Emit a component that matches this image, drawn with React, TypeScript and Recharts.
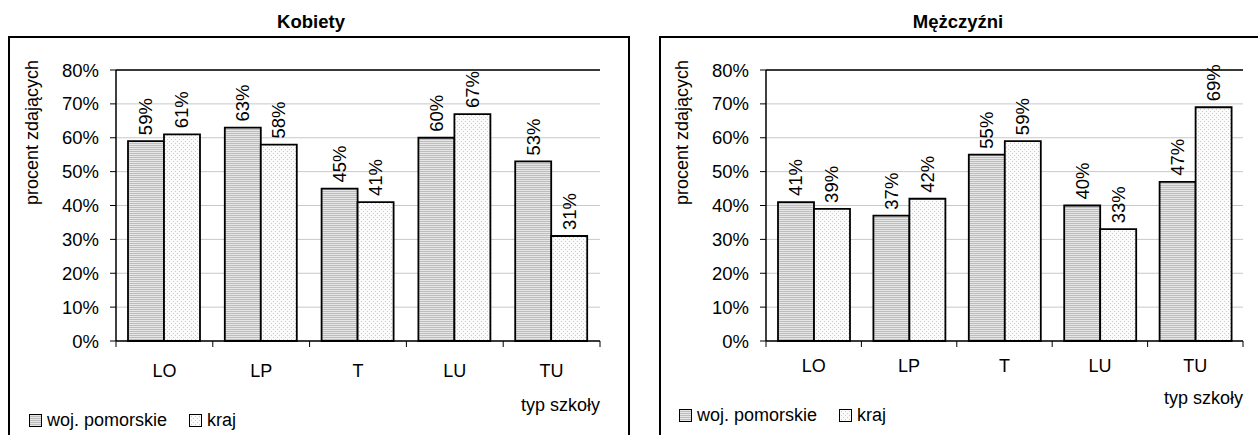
import React from 'react';
import { BarChart, Bar, XAxis, YAxis, CartesianGrid, LabelList, ReferenceLine } from 'recharts';

const categories = ['LO', 'LP', 'T', 'LU', 'TU'];
const kobietyPomorskie = [59, 63, 45, 60, 53];
const kobietyKraj = [61, 58, 41, 67, 31];
const mezczyzniPomorskie = [41, 37, 55, 40, 47];
const mezczyzniKraj = [39, 42, 59, 33, 69];
const yTicks = [0, 10, 20, 30, 40, 50, 60, 70, 80];

const seriesNames = { pom: 'woj. pomorskie', kraj: 'kraj' };
const FONT = '"Liberation Sans", Arial, sans-serif';

interface PanelProps {
  id: string;
  title: string;
  pom: number[];
  kraj: number[];
  left: number;
  width: number;
  axisWidth: number;
  rightMargin: number;
  titleX: number;
  yLabelX: number;
  tickDy: number;
  xLabelDy: number;
  legendTop: number;
  legendLeft: number;
}

const Panel: React.FC<PanelProps> = (p) => {
  const data = categories.map((c, i) => ({ cat: c, pom: p.pom[i], kraj: p.kraj[i] }));
  const top = 37;
  const height = 408;
  const half = (p.width - p.axisWidth - p.rightMargin) / categories.length / 2;

  const renderTick = (props: any) => {
    const { x, y, payload, index } = props;
    return (
      <g>
        <line x1={x + half} x2={x + half} y1={y} y2={y + 6} stroke="#000" />
        {index === 0 && <line x1={x - half} x2={x - half} y1={y} y2={y + 6} stroke="#000" />}
        <text x={x} y={y + p.tickDy} textAnchor="middle" fontSize={18} fill="#000" fontFamily={FONT}>
          {payload.value}
        </text>
      </g>
    );
  };

  const renderValue = (props: any) => {
    const { x, y, width, value } = props;
    const cx = x + width / 2;
    const cy = y - 6;
    return (
      <text x={cx} y={cy} transform={`rotate(-90, ${cx}, ${cy})`} textAnchor="start" dominantBaseline="central"
        fontSize={18.5} fill="#000" fontFamily={FONT}>
        {value}%
      </text>
    );
  };

  return (
    <>
      <div style={{ position: 'absolute', left: p.titleX - 150, top: 11, width: 300, textAlign: 'center', fontWeight: 'bold', fontSize: 18.5, lineHeight: '22px', fontFamily: FONT }}>
        {p.title}
      </div>
      <div style={{ position: 'absolute', left: p.left - 1, top: top - 1, width: p.width + 2, height: 430, border: '2px solid #000', boxSizing: 'border-box' }} />
      <div style={{ position: 'absolute', left: p.left, top }}>
        <BarChart width={p.width} height={height} data={data} barGap={0}
          margin={{ top: 33, right: p.rightMargin, left: 0, bottom: 0 }}>
          <defs>
            <pattern id={`${p.id}-pom`} width="2" height="2" patternUnits="userSpaceOnUse">
              <rect width="2" height="2" fill="#e6e6e6" />
              <rect width="2" height="1" fill="#bdbdbd" />
            </pattern>
            <pattern id={`${p.id}-kraj`} width="4" height="4" patternUnits="userSpaceOnUse">
              <rect width="4" height="4" fill="#fbfbfb" />
              <rect width="1" height="1" fill="#cccccc" />
              <rect x="2" y="2" width="1" height="1" fill="#cccccc" />
            </pattern>
          </defs>
          <CartesianGrid vertical={false} stroke="#c8c8c8" />
          <XAxis dataKey="cat" height={height - 33 - 271} axisLine={{ stroke: '#000', strokeWidth: 1.5 }} tickLine={false}
            tickSize={0} tickMargin={0} tick={renderTick} interval={0}
            label={{
              content: (lp: any) => (
                <text x={lp.viewBox.x + lp.viewBox.width} y={lp.viewBox.y + p.xLabelDy} textAnchor="end" fontSize={18} fill="#000" fontFamily={FONT}>
                  typ szkoły
                </text>
              ),
            }} />
          <YAxis width={p.axisWidth} domain={[0, 80]} ticks={yTicks} tickFormatter={(v) => `${v}%`}
            axisLine={{ stroke: '#000', strokeWidth: 1.5 }} tickLine={{ stroke: '#000' }} tickSize={6} tickMargin={11}
            tick={{ fontSize: 18.5, fill: '#000', fontFamily: FONT }} interval={0}
            label={{
              content: (lp: any) => {
                const lx = lp.viewBox.x + p.yLabelX;
                const ly = lp.viewBox.y - 10;
                return (
                  <text x={lx} y={ly} transform={`rotate(-90, ${lx}, ${ly})`} textAnchor="end" fontSize={18} fill="#000" fontFamily={FONT}>
                    procent zdających
                  </text>
                );
              },
            }} />
          <YAxis yAxisId="frame" orientation="right" width={0} domain={[0, 80]} tick={false} tickLine={false}
            axisLine={{ stroke: '#000', strokeWidth: 1.5 }} />
          <ReferenceLine y={80} stroke="#000" strokeWidth={1.5} />
          <Bar dataKey="pom" name={seriesNames.pom} fill={`url(#${p.id}-pom)`} stroke="#000" strokeWidth={1.8} barSize={36} isAnimationActive={false}>
            <LabelList dataKey="pom" content={renderValue} />
          </Bar>
          <Bar dataKey="kraj" name={seriesNames.kraj} fill={`url(#${p.id}-kraj)`} stroke="#000" strokeWidth={1.8} barSize={36} isAnimationActive={false}>
            <LabelList dataKey="kraj" content={renderValue} />
          </Bar>
        </BarChart>
      </div>
      <div style={{ position: 'absolute', left: p.legendLeft, top: p.legendTop, display: 'flex', alignItems: 'center', fontSize: 18, fontFamily: FONT, lineHeight: '20px' }}>
        {(['pom', 'kraj'] as const).map((k, i) => (
          <span key={k} style={{ display: 'flex', alignItems: 'center', marginRight: i === 0 ? 22 : 0 }}>
            <svg width={13} height={13} style={{ marginRight: 5 }}>
              <rect x={0.5} y={0.5} width={12} height={12} fill={`url(#${p.id}-${k})`} stroke="#000" />
            </svg>
            {seriesNames[k]}
          </span>
        ))}
      </div>
    </>
  );
};

export default function App() {
  return (
    <div style={{ position: 'relative', width: 1258, height: 435, overflow: 'hidden', background: '#fff', fontFamily: FONT }}>
      <style>{'body{margin:0;overflow:hidden}'}</style>
      <Panel id="k" title="Kobiety" pom={kobietyPomorskie} kraj={kobietyKraj} left={9} width={620}
        axisWidth={107} rightMargin={29} titleX={311} yLabelX={29} tickDy={35.5} xLabelDy={70}
        legendTop={410} legendLeft={29} />
      <Panel id="m" title="Mężczyźni" pom={mezczyzniPomorskie} kraj={mezczyzniKraj} left={660} width={620}
        axisWidth={106} rightMargin={37} titleX={958} yLabelX={28} tickDy={30.5} xLabelDy={63}
        legendTop={405} legendLeft={679} />
    </div>
  );
}
